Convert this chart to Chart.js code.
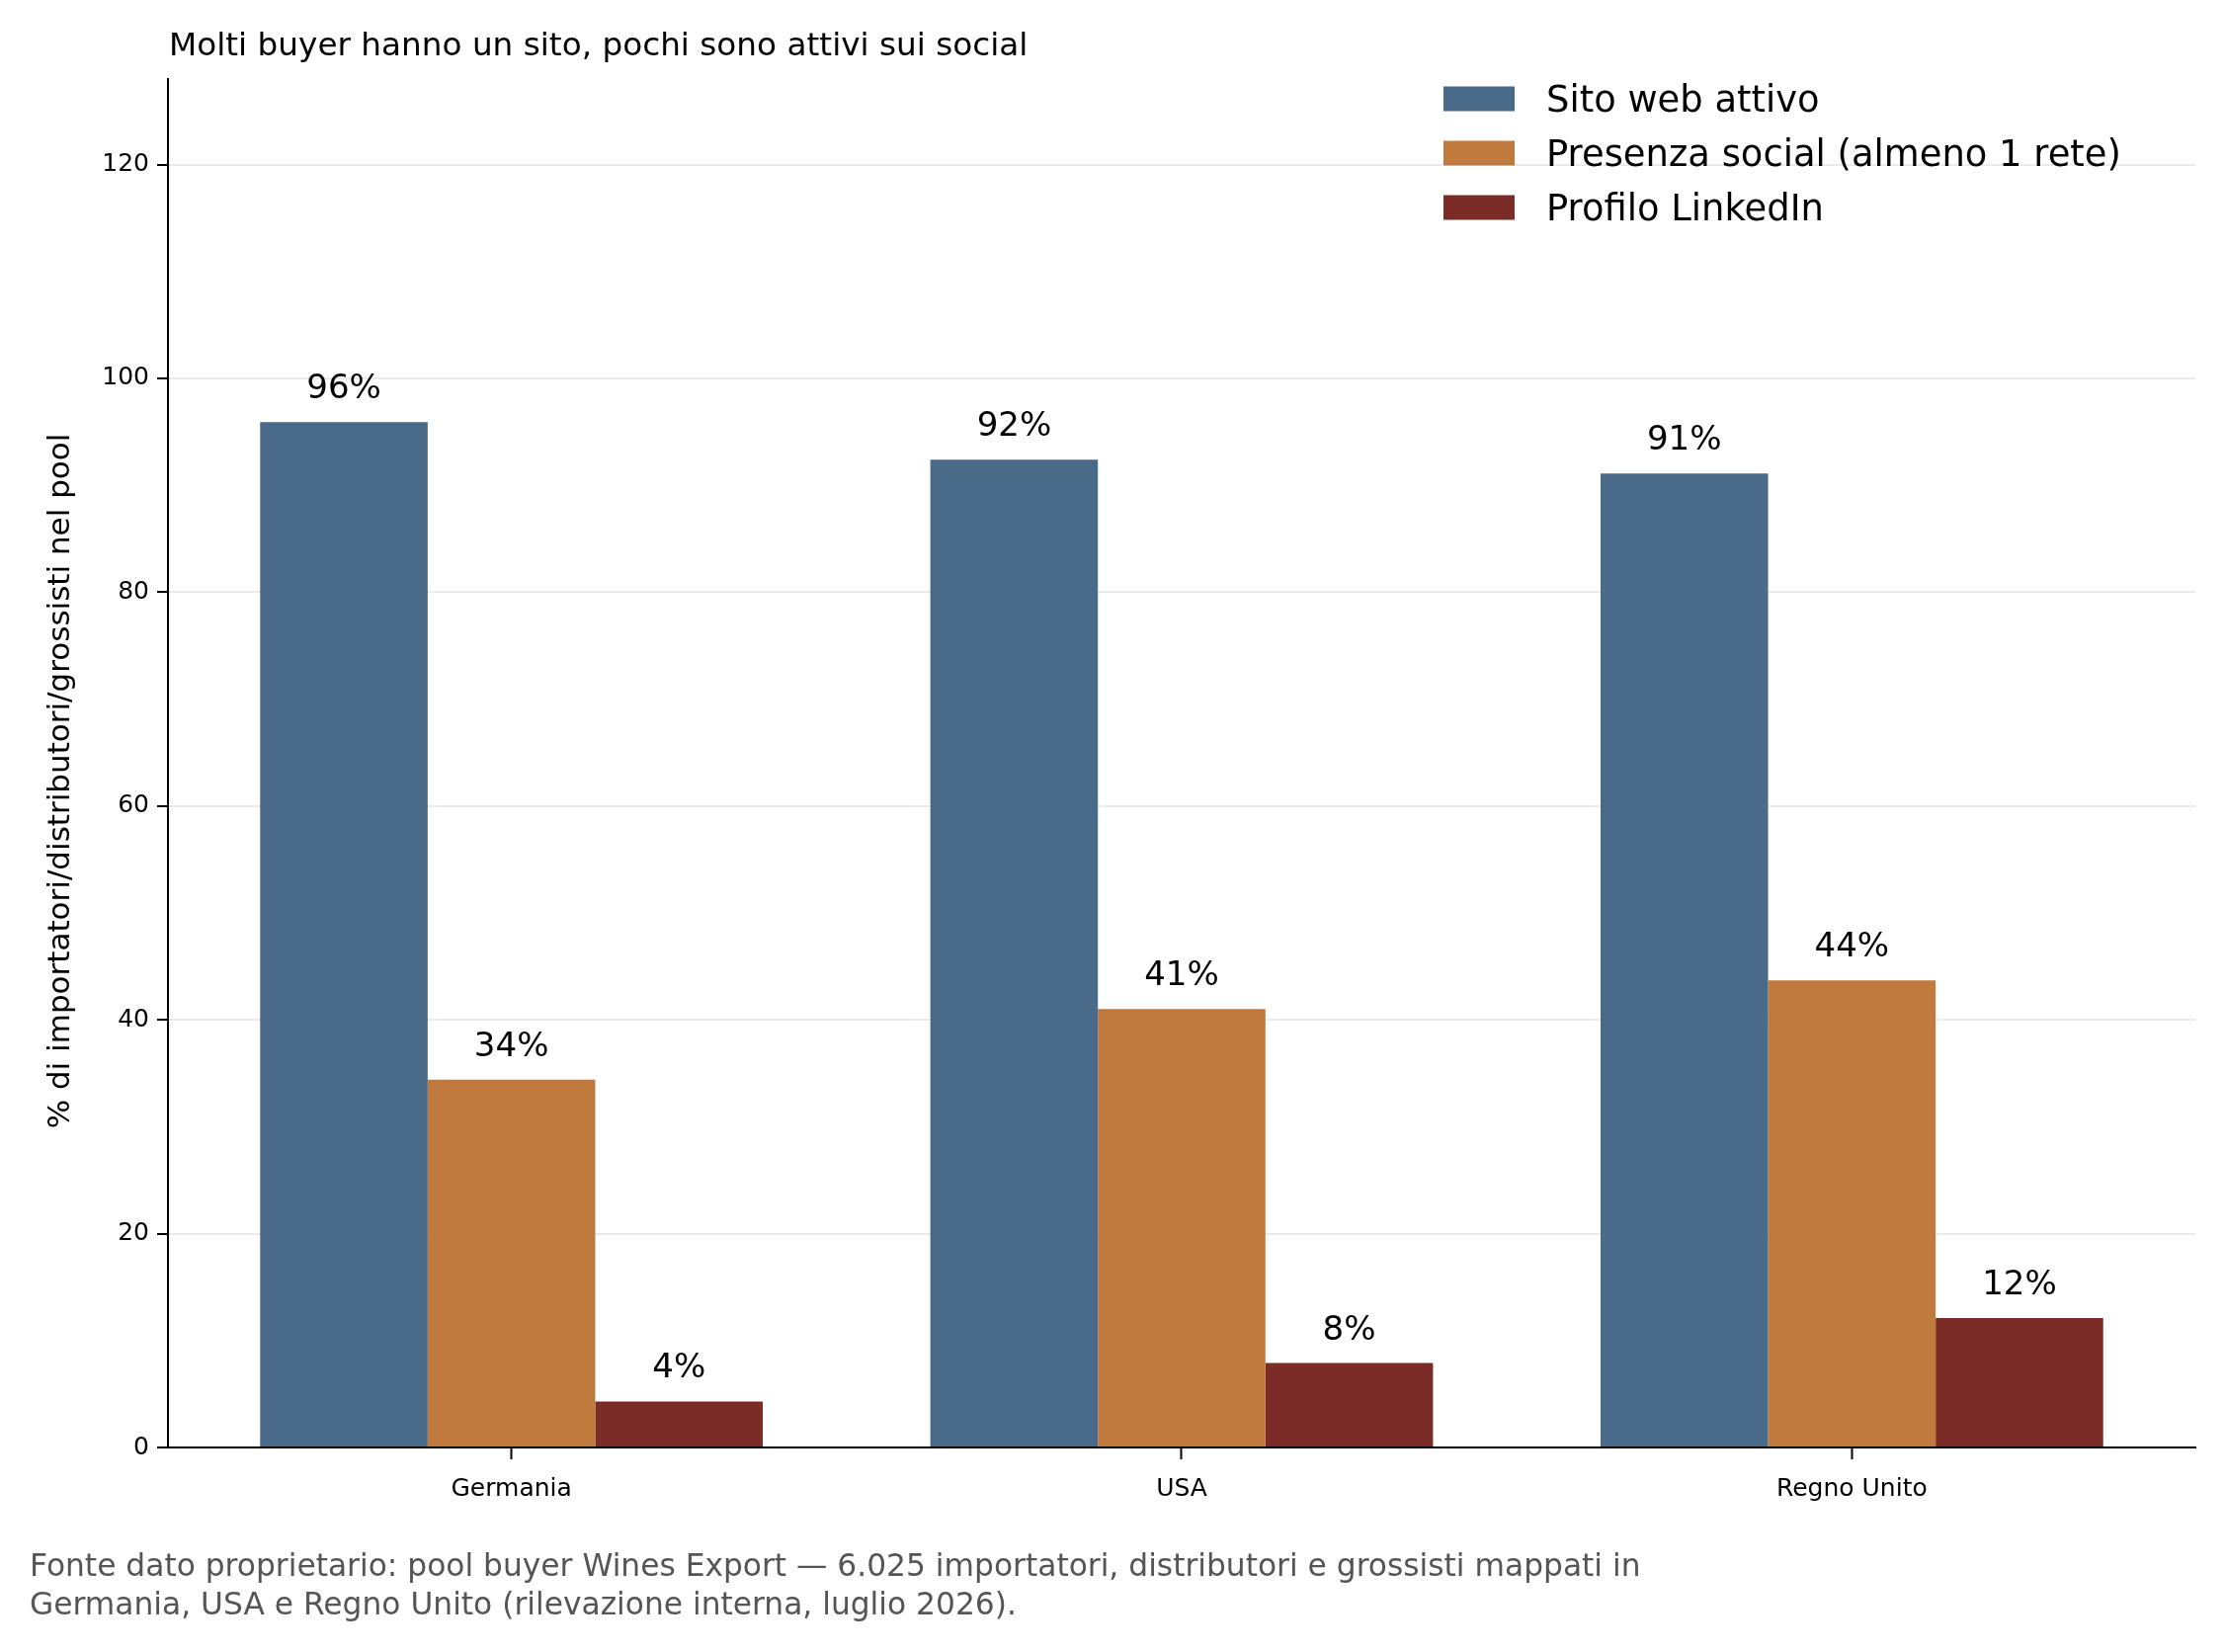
<!DOCTYPE html>
<html>
<head>
<meta charset="utf-8">
<script src="https://cdn.jsdelivr.net/npm/chart.js@4.4.1/dist/chart.umd.min.js"></script>
<style>
html, body { margin: 0; padding: 0; background: #ffffff; }
canvas { display: block; }
</style>
</head>
<body>
<canvas id="c" width="2251" height="1672" style="width:2251px;height:1672px"></canvas>
<script>
// ---- data ----
const categories = ['Germania', 'USA', 'Regno Unito'];
const seriesNames = ['Sito web attivo', 'Presenza social (almeno 1 rete)', 'Profilo LinkedIn'];
const sitoWeb = [95.9, 92.4, 91.1];
const socialPresence = [34.4, 41.0, 43.7];
const linkedinProfile = [4.3, 7.9, 12.1];
const yTickValues = [0, 20, 40, 60, 80, 100, 120];
const seriesColors = ['#4a6a89', '#c07a3e', '#7b2c27'];
const chartTitle = 'Molti buyer hanno un sito, pochi sono attivi sui social';
const yAxisTitle = '% di importatori/distributori/grossisti nel pool';
const footerLines = [
  'Fonte dato proprietario: pool buyer Wines Export \u2014 6.025 importatori, distributori e grossisti mappati in',
  'Germania, USA e Regno Unito (rilevazione interna, luglio 2026).'
];

const FONT = '"DejaVu Sans", "Liberation Sans", sans-serif';
const allSeries = [sitoWeb, socialPresence, linkedinProfile];

const datasets = allSeries.map((vals, s) => ({
  label: seriesNames[s],
  data: vals.map((v, i) => ({ x: i, y: v })),
  backgroundColor: seriesColors[s],
  borderWidth: 0
}));

const decorPlugin = {
  id: 'decor',
  afterDatasetsDraw(chart) {
    const ctx = chart.ctx;
    ctx.save();
    ctx.fillStyle = '#000';
    ctx.font = '34px ' + FONT;
    ctx.textAlign = 'center';
    ctx.textBaseline = 'alphabetic';
    chart.data.datasets.forEach((ds, di) => {
      const meta = chart.getDatasetMeta(di);
      meta.data.forEach((bar, i) => {
        const v = allSeries[di][i];
        ctx.fillText(Math.round(v) + '%', bar.x, bar.y - 24);
      });
    });
    ctx.restore();
  },
  afterDraw(chart) {
    const ctx = chart.ctx;
    const area = chart.chartArea;
    ctx.save();
    // title
    ctx.fillStyle = '#000';
    ctx.font = '32.7px ' + FONT;
    ctx.textAlign = 'left';
    ctx.textBaseline = 'alphabetic';
    ctx.fillText(chartTitle, area.left + 1, 56);
    // y axis title
    ctx.save();
    ctx.translate(70, (area.top + area.bottom) / 2 + 18);
    ctx.rotate(-Math.PI / 2);
    ctx.textAlign = 'center';
    ctx.font = '31px ' + FONT;
    ctx.fillText(yAxisTitle, 0, 0);
    ctx.restore();
    // footer
    ctx.fillStyle = '#555555';
    ctx.font = '31.3px ' + FONT;
    ctx.textAlign = 'left';
    footerLines.forEach((t, i) => ctx.fillText(t, 30, 1595 + i * 39));
    // legend
    const rows = [100, 155, 210];
    ctx.font = '36.9px ' + FONT;
    ctx.textBaseline = 'alphabetic';
    chart.data.datasets.forEach((ds, i) => {
      ctx.fillStyle = ds.backgroundColor;
      ctx.fillRect(1461, rows[i] - 12.5, 72, 25);
      ctx.fillStyle = '#000';
      ctx.fillText(ds.label, 1565, rows[i] + 13);
    });
    ctx.restore();
  }
};

new Chart(document.getElementById('c'), {
  type: 'bar',
  data: { datasets },
  options: {
    responsive: false,
    animation: false,
    devicePixelRatio: 1,
    layout: { padding: { top: 80, right: 29, left: 0, bottom: 0 } },
    plugins: { legend: { display: false }, tooltip: { enabled: false }, title: { display: false } },
    datasets: { bar: { categoryPercentage: 0.75, barPercentage: 1.0 } },
    scales: {
      x: {
        type: 'linear',
        min: -0.5125,
        max: 2.5125,
        offset: false,
        afterBuildTicks: (s) => { s.ticks = categories.map((c, i) => ({ value: i })); },
        afterFit: (s) => { s.height = 1672 - 1465; },
        grid: { display: true, offset: false, drawOnChartArea: false, drawTicks: true, tickLength: 12, tickColor: '#000', tickWidth: 2 },
        border: { display: true, color: '#000', width: 2 },
        ticks: {
          autoSkip: false, maxRotation: 0, minRotation: 0, padding: 15, color: '#000',
          font: { family: FONT, size: 25 },
          callback: (v) => (categories[v] !== undefined ? categories[v] : '')
        }
      },
      y: {
        min: 0,
        max: 128,
        afterBuildTicks: (s) => { s.ticks = yTickValues.map(v => ({ value: v })); },
        afterFit: (s) => { s.width = 170; },
        grid: { color: '#ebebeb', lineWidth: 2, drawTicks: true, tickLength: 11, tickColor: '#000', tickWidth: 2 },
        border: { display: true, color: '#000', width: 2 },
        ticks: { padding: 8, color: '#000', font: { family: FONT, size: 25 } }
      }
    }
  },
  plugins: [decorPlugin]
});
</script>
</body>
</html>
